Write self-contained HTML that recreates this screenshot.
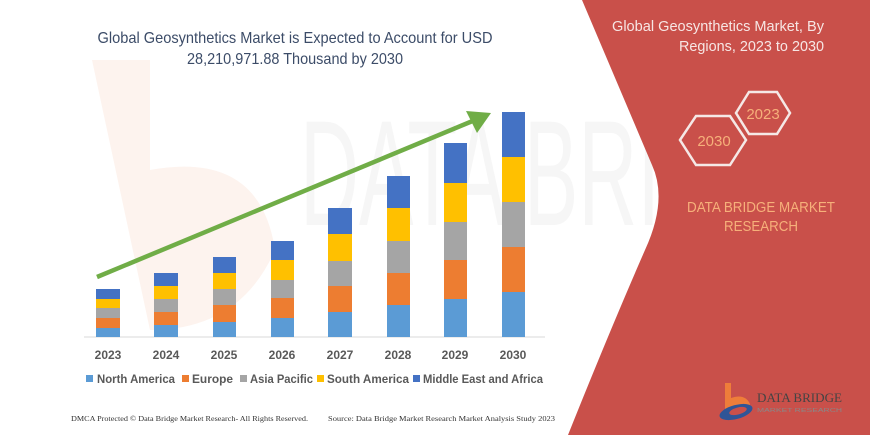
<!DOCTYPE html>
<html><head><meta charset="utf-8"><style>
html,body{margin:0;padding:0;background:#fff;}
svg{display:block;font-family:"Liberation Sans",sans-serif;}
</style></head><body>
<svg width="870" height="435" viewBox="0 0 870 435" xmlns="http://www.w3.org/2000/svg">
<rect width="870" height="435" fill="#fff"/>
<!-- faint watermark -->
<path d="M92 60 L150 60 L150 170 Q260 150 275 250 Q240 330 150 330 Z" fill="#fdf3ee"/>
<text x="300" y="225" font-size="150" fill="#f6f6f6" textLength="360" lengthAdjust="spacingAndGlyphs">DATA BRI</text>
<!-- red panel -->
<path d="M582 0 L870 0 L870 435 L568 435 Q610 330 645 250 Q668 200 652 165 Z" fill="#c9504a"/>
<!-- title -->
<text x="295" y="43" font-size="16" fill="#3c4c68" text-anchor="middle" textLength="395" lengthAdjust="spacingAndGlyphs">Global Geosynthetics Market is Expected to Account for USD</text>
<text x="295" y="64" font-size="16" fill="#3c4c68" text-anchor="middle" textLength="216" lengthAdjust="spacingAndGlyphs">28,210,971.88 Thousand by 2030</text>
<!-- axis -->
<line x1="84" y1="337" x2="545" y2="337" stroke="#d9d9d9" stroke-width="1"/>
<g id="bars">
<rect x="96" y="328" width="24" height="9" fill="#5b9bd5"/><rect x="96" y="318" width="24" height="10" fill="#ed7d31"/><rect x="96" y="308" width="24" height="10" fill="#a5a5a5"/><rect x="96" y="299" width="24" height="9" fill="#ffc000"/><rect x="96" y="289" width="24" height="10" fill="#4472c4"/>
<rect x="154" y="325" width="24" height="12" fill="#5b9bd5"/><rect x="154" y="312" width="24" height="13" fill="#ed7d31"/><rect x="154" y="299" width="24" height="13" fill="#a5a5a5"/><rect x="154" y="286" width="24" height="13" fill="#ffc000"/><rect x="154" y="273" width="24" height="13" fill="#4472c4"/>
<rect x="213" y="322" width="23" height="15" fill="#5b9bd5"/><rect x="213" y="305" width="23" height="17" fill="#ed7d31"/><rect x="213" y="289" width="23" height="16" fill="#a5a5a5"/><rect x="213" y="273" width="23" height="16" fill="#ffc000"/><rect x="213" y="257" width="23" height="16" fill="#4472c4"/>
<rect x="271" y="318" width="23" height="19" fill="#5b9bd5"/><rect x="271" y="298" width="23" height="20" fill="#ed7d31"/><rect x="271" y="280" width="23" height="18" fill="#a5a5a5"/><rect x="271" y="260" width="23" height="20" fill="#ffc000"/><rect x="271" y="241" width="23" height="19" fill="#4472c4"/>
<rect x="328" y="312" width="24" height="25" fill="#5b9bd5"/><rect x="328" y="286" width="24" height="26" fill="#ed7d31"/><rect x="328" y="261" width="24" height="25" fill="#a5a5a5"/><rect x="328" y="234" width="24" height="27" fill="#ffc000"/><rect x="328" y="208" width="24" height="26" fill="#4472c4"/>
<rect x="387" y="305" width="23" height="32" fill="#5b9bd5"/><rect x="387" y="273" width="23" height="32" fill="#ed7d31"/><rect x="387" y="241" width="23" height="32" fill="#a5a5a5"/><rect x="387" y="208" width="23" height="33" fill="#ffc000"/><rect x="387" y="176" width="23" height="32" fill="#4472c4"/>
<rect x="444" y="299" width="23" height="38" fill="#5b9bd5"/><rect x="444" y="260" width="23" height="39" fill="#ed7d31"/><rect x="444" y="222" width="23" height="38" fill="#a5a5a5"/><rect x="444" y="183" width="23" height="39" fill="#ffc000"/><rect x="444" y="143" width="23" height="40" fill="#4472c4"/>
<rect x="502" y="292" width="23" height="45" fill="#5b9bd5"/><rect x="502" y="247" width="23" height="45" fill="#ed7d31"/><rect x="502" y="202" width="23" height="45" fill="#a5a5a5"/><rect x="502" y="157" width="23" height="45" fill="#ffc000"/><rect x="502" y="112" width="23" height="45" fill="#4472c4"/>
</g>
<!-- arrow -->
<line x1="97" y1="277" x2="475" y2="120" stroke="#70ad47" stroke-width="4.5"/>
<polygon points="491,113 466,111 477,133" fill="#70ad47"/>
<!-- year labels -->
<g font-size="12" font-weight="bold" fill="#595959" text-anchor="middle">
<text x="108" y="359">2023</text><text x="166" y="359">2024</text><text x="224" y="359">2025</text><text x="282" y="359">2026</text><text x="340" y="359">2027</text><text x="398" y="359">2028</text><text x="455" y="359">2029</text><text x="513" y="359">2030</text>
</g>
<!-- legend -->
<g font-size="12" font-weight="bold" fill="#595959">
<rect x="86" y="375" width="7" height="7" fill="#5b9bd5"/><text x="97" y="383" textLength="78" lengthAdjust="spacingAndGlyphs">North America</text>
<rect x="182" y="375" width="7" height="7" fill="#ed7d31"/><text x="192" y="383" textLength="41" lengthAdjust="spacingAndGlyphs">Europe</text>
<rect x="240" y="375" width="7" height="7" fill="#a5a5a5"/><text x="250" y="383" textLength="63" lengthAdjust="spacingAndGlyphs">Asia Pacific</text>
<rect x="317" y="375" width="7" height="7" fill="#ffc000"/><text x="327" y="383" textLength="82" lengthAdjust="spacingAndGlyphs">South America</text>
<rect x="413" y="375" width="7" height="7" fill="#4472c4"/><text x="423" y="383" textLength="120" lengthAdjust="spacingAndGlyphs">Middle East and Africa</text>
</g>
<!-- footer -->
<g font-family="Liberation Serif,serif" font-size="7.5" fill="#333">
<text x="71" y="421" textLength="237" lengthAdjust="spacingAndGlyphs">DMCA Protected © Data Bridge Market Research-  All Rights Reserved.</text>
<text x="328" y="421" textLength="227" lengthAdjust="spacingAndGlyphs">Source:  Data Bridge Market Research  Market Analysis Study 2023</text>
</g>
<!-- right panel text -->
<text x="824" y="31" font-size="15" fill="#f7e6e4" text-anchor="end" textLength="212" lengthAdjust="spacingAndGlyphs">Global Geosynthetics Market, By</text>
<text x="824" y="51" font-size="15" fill="#f7e6e4" text-anchor="end" textLength="145" lengthAdjust="spacingAndGlyphs">Regions, 2023 to 2030</text>
<polygon points="736,113 749,92 777,92 790,113 777,134 749,134" fill="none" stroke="#f5e8e6" stroke-width="2.5"/>
<polygon points="680,140 696,116 730,116 746,140 730,165 696,165" fill="none" stroke="#f5e8e6" stroke-width="2.5"/>
<text x="763" y="119" font-size="15" fill="#f6b07a" text-anchor="middle">2023</text>
<text x="714" y="146" font-size="15" fill="#f6b07a" text-anchor="middle">2030</text>
<text x="761" y="212" font-size="14.5" fill="#f6b07a" text-anchor="middle" textLength="148" lengthAdjust="spacingAndGlyphs">DATA BRIDGE MARKET</text>
<text x="761" y="231" font-size="14.5" fill="#f6b07a" text-anchor="middle" textLength="74" lengthAdjust="spacingAndGlyphs">RESEARCH</text>
<!-- logo -->
<path d="M725 383 L731 383 L731 398 Q745 393 750 404 Q748 414 733 414 L725 414 Z" fill="#ee7d3a"/>
<ellipse cx="736" cy="412" rx="17" ry="7" fill="#2f5597" transform="rotate(-15 736 412)"/>
<ellipse cx="738" cy="411" rx="9" ry="3.5" fill="#c9504a" transform="rotate(-15 738 411)"/>
<text x="757" y="402" font-family="Liberation Serif,serif" font-size="13" fill="#444" textLength="85" lengthAdjust="spacingAndGlyphs">DATA BRIDGE</text>
<text x="757" y="412" font-size="5" fill="#888" textLength="85" lengthAdjust="spacingAndGlyphs">MARKET RESEARCH</text>
</svg>
</body></html>
